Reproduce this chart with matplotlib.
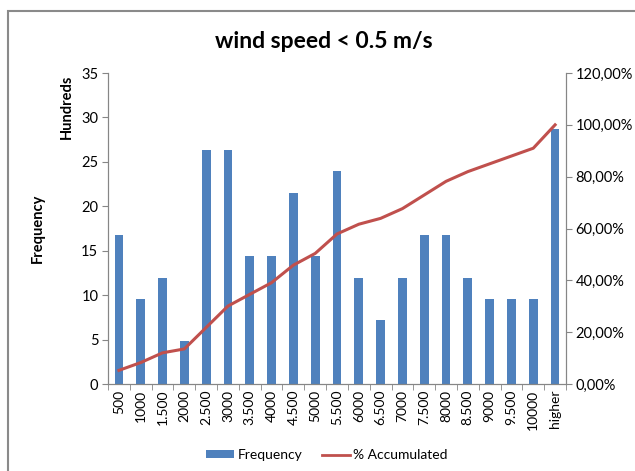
import matplotlib
matplotlib.use("Agg")
import matplotlib.pyplot as plt
from matplotlib.lines import Line2D
from matplotlib.patches import Patch, Rectangle
import numpy as np

plt.rcParams['font.family'] = ['Lato', 'DejaVu Sans']

# Wind-power classes (x axis) and their frequencies
classes = ["500", "1000", "1.500", "2000", "2.500", "3000", "3.500", "4000",
           "4.500", "5000", "5.500", "6000", "6.500", "7000", "7.500", "8000",
           "8.500", "9000", "9.500", "10000", "higher"]
frequency = [1676, 958, 1197, 479, 2634, 2634, 1436, 1436, 2155, 1436, 2394,
             1197, 718, 1197, 1676, 1676, 1197, 958, 958, 958, 2873]
accumulated_pct = [5.26, 8.27, 12.03, 13.53, 21.80, 30.08, 34.59, 39.10, 45.86,
                   50.38, 57.89, 61.65, 63.91, 67.67, 72.93, 78.20, 81.95,
                   84.96, 87.97, 90.98, 100.0]

BLUE = "#4F81BD"
RED = "#C0504D"
AXIS = "#868686"

W, H = 635, 471
fig = plt.figure(figsize=(W / 100, H / 100), dpi=100)

# chart-area frame (cut at right/bottom edges)
fig.add_artist(Rectangle((8 / W, -0.1), 1.2, (H - 11) / H + 0.1,
                         transform=fig.transFigure, fill=False,
                         edgecolor="#8a8a8a", linewidth=1.5))

left, right, top, bottom = 108, 566, 73, 384
ax = fig.add_axes([left / W, 1 - bottom / H, (right - left) / W, (bottom - top) / H])

x = np.arange(len(classes))
ax.bar(x, np.array(frequency) / 100.0, width=0.4, color=BLUE, zorder=2)
ax.set_xlim(-0.5, len(classes) - 0.5)
ax.set_ylim(0, 35)
ax.set_yticks(range(0, 36, 5))

ax.set_xticks(x)
ax.set_xticklabels(classes, rotation=90, fontsize=10)
ax.set_xticks(np.arange(-0.5, len(classes), 1), minor=True)
ax.tick_params(axis="x", which="major", length=0, pad=4)
ax.tick_params(axis="x", which="minor", length=4, color=AXIS)
ax.tick_params(axis="y", length=4, color=AXIS, labelsize=10.5, pad=3)

for side in ("top",):
    ax.spines[side].set_visible(False)
for side in ("left", "bottom", "right"):
    ax.spines[side].set_color(AXIS)

ax2 = ax.twinx()
ax2.plot(x, accumulated_pct, color=RED, linewidth=2.2, zorder=3)
ax2.set_ylim(0, 120)
ax2.set_yticks(range(0, 121, 20))
ax2.set_yticklabels([f"{v},00%" for v in range(0, 121, 20)])
ax2.tick_params(axis="y", length=4, color=AXIS, labelsize=10.5, pad=3)
ax2.spines["top"].set_visible(False)
for side in ("left", "bottom", "right"):
    ax2.spines[side].set_color(AXIS)

fig.text(38 / W, 1 - 228 / H, "Frequency", rotation=90, ha="center", va="center",
         fontsize=10.5, fontweight="bold")
fig.text(67 / W, 1 - 107 / H, "Hundreds", rotation=90, ha="center", va="center",
         fontsize=10.5, fontweight="bold")

fig.text(324 / W, 1 - 42 / H, "wind speed < 0.5 m/s", ha="center", va="center",
         fontsize=16.5, fontweight="bold")

handles = [Patch(facecolor=BLUE), Line2D([0], [0], color=RED, linewidth=2)]
fig.legend(handles, ["Frequency", "% Accumulated"], loc="center",
           bbox_to_anchor=(327 / W, 1 - 455 / H), ncol=2, frameon=False,
           fontsize=10, handlelength=2.0, handleheight=0.5,
           handletextpad=0.25, columnspacing=1.4)

fig.savefig("out.png", dpi=100)
